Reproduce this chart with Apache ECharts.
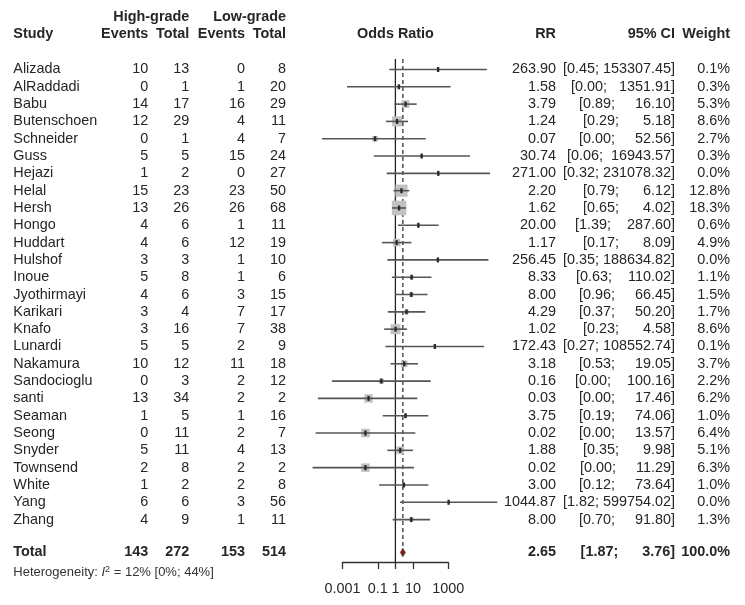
<!DOCTYPE html>
<html><head><meta charset="utf-8">
<script src="https://cdn.jsdelivr.net/npm/echarts@6/dist/echarts.min.js"></script>
<style>html,body{margin:0;padding:0;background:#fff}#c{width:745px;height:605px}</style>
</head><body><div id="c"></div>
<script>
// ---------- data ----------
const studies = ['Alizada','AlRaddadi','Babu','Butenschoen','Schneider','Guss','Hejazi','Helal','Hersh','Hongo','Huddart','Hulshof','Inoue','Jyothirmayi','Karikari','Knafo','Lunardi','Nakamura','Sandocioglu','santi','Seaman','Seong','Snyder','Townsend','White','Yang','Zhang'];
const hiEvents = [10,0,14,12,0,5,1,15,13,4,4,3,5,4,3,3,5,10,0,13,1,0,5,2,1,6,4];
const hiTotal  = [13,1,17,29,1,5,2,23,26,6,6,3,8,6,4,16,5,12,3,34,5,11,11,8,2,6,9];
const loEvents = [0,1,16,4,4,15,0,23,26,1,12,1,1,3,7,7,2,11,2,2,1,2,4,2,2,3,1];
const loTotal  = [8,20,29,11,7,24,27,50,68,11,19,10,6,15,17,38,9,18,12,2,16,7,13,2,8,56,11];
const rr       = [263.90,1.58,3.79,1.24,0.07,30.74,271.00,2.20,1.62,20.00,1.17,256.45,8.33,8.00,4.29,1.02,172.43,3.18,0.16,0.03,3.75,0.02,1.88,0.02,3.00,1044.87,8.00];
const ciLow    = [0.45,0.00,0.89,0.29,0.00,0.06,0.32,0.79,0.65,1.39,0.17,0.35,0.63,0.96,0.37,0.23,0.27,0.53,0.00,0.00,0.19,0.00,0.35,0.00,0.12,1.82,0.70];
// lower limits as drawn (the printed 0.00 values are below display precision)
const ciLowDrawn = [0.45,0.0018,0.89,0.29,0.00007,0.06,0.32,0.79,0.65,1.39,0.17,0.35,0.63,0.96,0.37,0.23,0.27,0.53,0.00025,0.00004,0.19,0.00003,0.35,0.00002,0.12,1.82,0.70];
const ciHigh   = [153307.45,1351.91,16.10,5.18,52.56,16943.57,231078.32,6.12,4.02,287.60,8.09,188634.82,110.02,66.45,50.20,4.58,108552.74,19.05,100.16,17.46,74.06,13.57,9.98,11.29,73.64,599754.02,91.80];
const weight   = [0.1,0.3,5.3,8.6,2.7,0.3,0.0,12.8,18.3,0.6,4.9,0.0,1.1,1.5,1.7,8.6,0.1,3.7,2.2,6.2,1.0,6.4,5.1,6.3,1.0,0.0,1.3];
const totalCounts = [143,272,153,514];
const pooledRR = 2.65, pooledLow = 1.87, pooledHigh = 3.76, pooledWeight = 100.0;
const i2Text = '12% [0%; 44%]';
const xTicks = [0.001, 0.1, 1, 10, 1000];

// ---------- layout ----------
const FONT = '"Liberation Sans", Arial, Helvetica, sans-serif';
const FS = 14.4;
const TXT = '#262626';
const COL = {study:13.3, hiEv:148.3, hiTot:189.3, loEv:245, loTot:286, rr:556, ci:675, wt:730, or:395.5};
const ROW = {group:-3.03, head:-2.05, total:27.9, het:29.07, top:-0.6, axis:28.45};

function T(x, y, s, align, bold, extra) {
  return {type:'text', silent:true, style:Object.assign({
    text:String(s), x:x, y:y, fill:TXT, fontSize:FS, fontFamily:FONT,
    fontWeight: bold ? 'bold' : 'normal', align:align, verticalAlign:'middle'
  }, extra || {})};
}
function ciStr(lo, hi) {
  return '[' + lo.toFixed(2).padStart(4, ' ') + '; ' + hi.toFixed(2).padStart(9, ' ') + ']';
}

const chart = echarts.init(document.getElementById('c'));

const option = {
  backgroundColor:'#ffffff',
  animation:false,
  grid:{left:342.5, right:296.7, top:59.1, bottom:43, containLabel:false},
  xAxis:{
    type:'log', logBase:10, min:0.001, max:1000,
    axisLine:{show:true, onZero:false, lineStyle:{color:'#333', width:1.3}},
    axisTick:{show:true, length:7, inside:false, customValues:xTicks, lineStyle:{color:'#333', width:1.3}},
    axisLabel:{show:true, customValues:xTicks, margin:20, color:TXT, fontSize:FS, fontFamily:FONT,
      formatter:v => String(Number(Number(v).toPrecision(6)))},
    splitLine:{show:false}, minorTick:{show:false}
  },
  yAxis:{type:'value', min:ROW.top, max:ROW.axis, inverse:true, show:false, splitLine:{show:false}},
  series:[
    { // reference lines
      type:'custom', z:1, silent:true,
      data:[[1, pooledRR]],
      renderItem:(p, api) => {
        const a = api.coord([1, ROW.top]), b = api.coord([1, ROW.axis]);
        const c = api.coord([pooledRR, ROW.top]), d = api.coord([pooledRR, ROW.total - 0.25]);
        return {type:'group', children:[
          {type:'line', shape:{x1:a[0], y1:a[1], x2:b[0], y2:b[1]}, style:{stroke:'#222', lineWidth:1.3}},
          {type:'line', shape:{x1:c[0], y1:c[1], x2:d[0], y2:d[1]}, style:{stroke:'#333', lineWidth:1.3, lineDash:[4,3]}}
        ]};
      }
    },
    { // study estimates
      type:'custom', z:3, silent:true,
      data: studies.map((s, i) => [rr[i], i, ciLowDrawn[i], ciHigh[i], weight[i]]),
      renderItem:(p, api) => {
        const row = api.value(1);
        const pt = api.coord([api.value(0), row]);
        const lo = api.coord([api.value(2), row]);
        const hi = api.coord([api.value(3), row]);
        const side = 3.4 * Math.sqrt(api.value(4));
        return {type:'group', children:[
          {type:'rect', shape:{x:pt[0]-side/2, y:pt[1]-side/2, width:side, height:side}, style:{fill:'#c2c2c2'}},
          {type:'line', shape:{x1:lo[0], y1:lo[1], x2:hi[0], y2:hi[1]}, style:{stroke:'#555', lineWidth:1.6}},
          {type:'rect', shape:{x:pt[0]-1.2, y:pt[1]-2.5, width:2.4, height:5}, style:{fill:'#2a2a2a'}}
        ]};
      }
    },
    { // pooled diamond
      type:'custom', z:4, silent:true,
      data:[[pooledRR, ROW.total, pooledLow, pooledHigh]],
      renderItem:(p, api) => {
        const row = api.value(1);
        const c = api.coord([api.value(0), row]);
        const l = api.coord([api.value(2), row]);
        const r = api.coord([api.value(3), row]);
        const h = 4.6;
        return {type:'polygon', shape:{points:[[l[0], l[1]], [c[0], c[1]-h], [r[0], r[1]], [c[0], c[1]+h]]},
          style:{fill:'#7a1b1b', stroke:'#6b6b6b', lineWidth:0.6}};
      }
    },
    { // table text per study
      type:'custom', z:5, silent:true,
      data: studies.map((s, i) => [1, i]),
      renderItem:(p, api) => {
        const i = p.dataIndex;
        const y = api.coord([1, api.value(1)])[1];
        return {type:'group', children:[
          T(COL.study, y, studies[i], 'left'),
          T(COL.hiEv, y, hiEvents[i], 'right'),
          T(COL.hiTot, y, hiTotal[i], 'right'),
          T(COL.loEv, y, loEvents[i], 'right'),
          T(COL.loTot, y, loTotal[i], 'right'),
          T(COL.rr, y, rr[i].toFixed(2), 'right'),
          T(COL.ci, y, ciStr(ciLow[i], ciHigh[i]), 'right'),
          T(COL.wt, y, weight[i].toFixed(1) + '%', 'right')
        ]};
      }
    },
    { // headers, totals, heterogeneity
      type:'custom', z:5, silent:true,
      data:[[1, ROW.head]],
      renderItem:(p, api) => {
        const yG = api.coord([1, ROW.group])[1];
        const yH = api.coord([1, ROW.head])[1];
        const yT = api.coord([1, ROW.total])[1];
        const yQ = api.coord([1, ROW.het])[1];
        return {type:'group', children:[
          T(COL.hiTot, yG, 'High-grade', 'right', true),
          T(COL.loTot, yG, 'Low-grade', 'right', true),
          T(COL.study, yH, 'Study', 'left', true),
          T(COL.hiEv, yH, 'Events', 'right', true),
          T(COL.hiTot, yH, 'Total', 'right', true),
          T(COL.loEv, yH, 'Events', 'right', true),
          T(COL.loTot, yH, 'Total', 'right', true),
          T(COL.or, yH, 'Odds Ratio', 'center', true),
          T(COL.rr, yH, 'RR', 'right', true),
          T(COL.ci, yH, '95% CI', 'right', true),
          T(COL.wt, yH, 'Weight', 'right', true),
          T(COL.study, yT, 'Total', 'left', true),
          T(COL.hiEv, yT, totalCounts[0], 'right', true),
          T(COL.hiTot, yT, totalCounts[1], 'right', true),
          T(COL.loEv, yT, totalCounts[2], 'right', true),
          T(COL.loTot, yT, totalCounts[3], 'right', true),
          T(COL.rr, yT, pooledRR.toFixed(2), 'right', true),
          T(COL.ci, yT, ciStr(pooledLow, pooledHigh), 'right', true),
          T(COL.wt, yT, pooledWeight.toFixed(1) + '%', 'right', true),
          T(COL.study, yQ, 'Heterogeneity: {i|I}{s|2} = ' + i2Text, 'left', false, {
            fontSize:13, fill:'#333',
            rich:{
              i:{fontStyle:'italic', fontSize:13, fontFamily:FONT, fill:'#333'},
              s:{fontSize:9, fontFamily:FONT, fill:'#333', verticalAlign:'top', padding:[0,0,6,0]}
            }
          })
        ]};
      }
    }
  ]
};
chart.setOption(option);
</script>
</body></html>
